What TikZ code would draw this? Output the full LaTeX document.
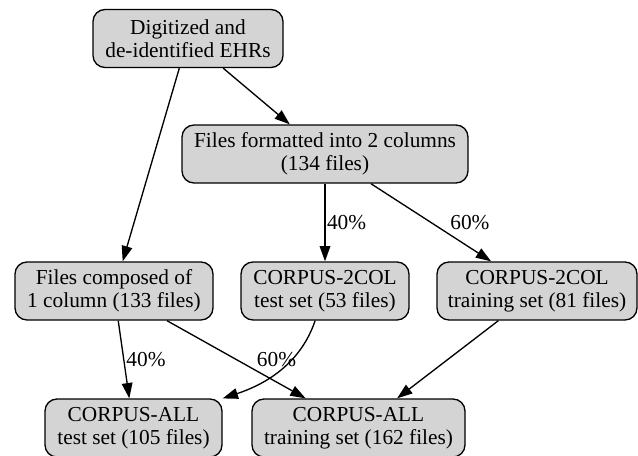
\documentclass[tikz,border=0pt]{standalone}
\usepackage{fontspec}
\setmainfont{Liberation Serif}
\usetikzlibrary{arrows.meta}
\tikzset{
  box/.style={draw=black, line width=1pt, fill=black!17, rounded corners=9pt, align=center,
    minimum height=43.5pt, inner xsep=2pt, font=\fontsize{16}{17.3}\selectfont},
  pct/.style={inner sep=0pt, font=\fontsize{16}{17.3}\selectfont},
  edge/.style={-{Triangle[length=11.5pt,width=8pt]}, line width=1pt}
}

\begin{document}
\begin{tikzpicture}[x=0.75pt, y=-0.75pt]
			%%%%% START %%%%%
			\useasboundingbox (0, 0) rectangle (638, 455);
			
			\node[box, minimum width=142.5pt] (ehr) at (188, 38.5) {Digitized and\\de-identified EHRs};
			\node[box, minimum width=214.5pt] (twocol) at (325, 154) {Files formatted into 2 columns\\(134 files)};
			
			\node[box, minimum width=148.5pt] (onecol) at (114, 291) {Files composed of\\1 column (133 files)};
			\node[box, minimum width=126pt] (ctest) at (325, 291) {CORPUS-2COL\\test set (53 files)};
			\node[box, minimum width=150pt] (ctrain) at (537, 291) {CORPUS-2COL\\training set (81 files)};
			
			\node[box, minimum width=132.75pt] (atest) at (133.5, 428) {CORPUS-ALL\\test set (105 files)};
			\node[box, minimum width=159.75pt] (atrain) at (358.5, 428) {CORPUS-ALL\\training set (162 files)};
			
			\draw[edge] (ehr) -- (onecol);
			\draw[edge] (ehr) -- (twocol);
			
			\draw[edge] (twocol) -- node[pct, midway, right=1pt] {40\%} (ctest);
			\draw[edge] (twocol) -- node[pct, midway, right=14pt] {60\%} (ctrain);
			
			\draw[edge] (onecol) -- node[pct, midway, right=1.5pt] {40\%} (atest);
			\draw[edge] (onecol) -- node[pct, midway, right=15pt] {60\%} (atrain);
			
			\draw[edge] (ctest) .. controls (306, 348) and (284, 378) .. (atest);
			\draw[edge] (ctrain) -- (atrain);
			
			%%%%% END %%%%%
\end{tikzpicture}
\end{document}
